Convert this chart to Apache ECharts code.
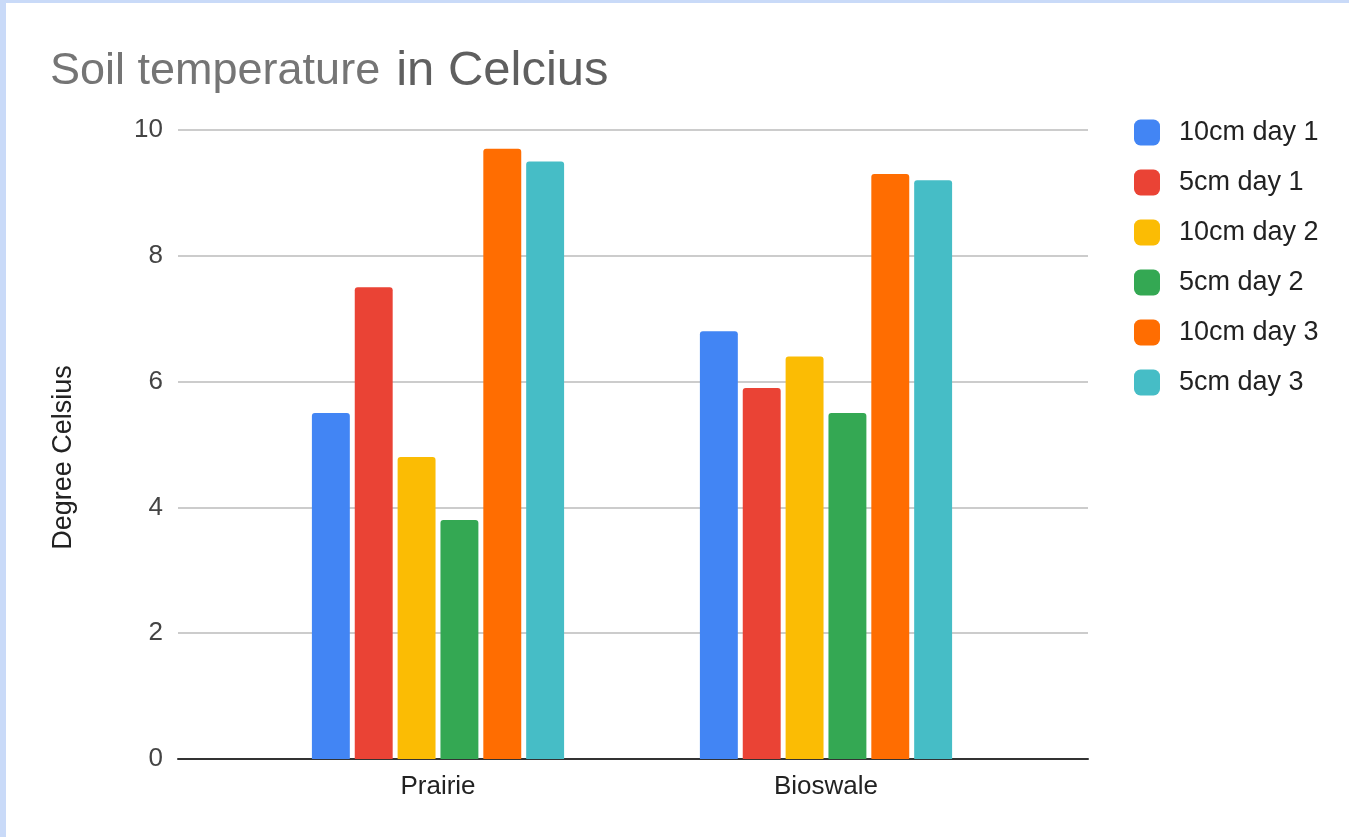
<!DOCTYPE html>
<html>
<head>
<meta charset="utf-8">
<script src="https://cdn.jsdelivr.net/npm/echarts@6/dist/echarts.min.js"></script>
<style>
  html, body { margin: 0; padding: 0; background: #ffffff; }
  #frame { position: absolute; left: 0; top: 0; width: 1349px; height: 837px; box-sizing: border-box;
           border-left: 6px solid #c9daf8; border-top: 3px solid #c9daf8; background: #ffffff; }
  #chart { position: absolute; left: 0; top: 0; width: 1349px; height: 837px; }
</style>
</head>
<body>
<div id="frame"></div>
<div id="chart"></div>
<script>
const categories = ["Prairie", "Bioswale"];
const seriesNames = ["10cm day 1", "5cm day 1", "10cm day 2", "5cm day 2", "10cm day 3", "5cm day 3"];
const seriesColors = ["#4285f4", "#ea4335", "#fbbc04", "#34a853", "#ff6d01", "#46bdc6"];
const d10cmDay1 = [5.5, 6.8];
const d5cmDay1 = [7.5, 5.9];
const d10cmDay2 = [4.8, 6.4];
const d5cmDay2 = [3.8, 5.5];
const d10cmDay3 = [9.7, 9.3];
const d5cmDay3 = [9.5, 9.2];
const seriesValues = [d10cmDay1, d5cmDay1, d10cmDay2, d5cmDay2, d10cmDay3, d5cmDay3];
const yMin = 0, yMax = 10, yStep = 2;

const FONT = "Liberation Sans";
const chart = echarts.init(document.getElementById('chart'), null, { renderer: 'canvas' });

const series = seriesNames.map((name, i) => ({
  name: name,
  type: 'bar',
  xAxisIndex: 1,
  yAxisIndex: 1,
  data: seriesValues[i],
  itemStyle: { color: seriesColors[i], borderRadius: [3, 3, 0, 0] },
  barGap: '13%',
  barCategoryGap: '35%'
}));

chart.setOption({
  backgroundColor: 'transparent',
  animation: false,
  color: seriesColors,
  title: {
    text: '{a|Soil temperature} {b|in Celcius}',
    left: 45,
    top: 42,
    textStyle: {
      fontFamily: FONT,
      fontWeight: 'normal',
      rich: {
        a: { fontFamily: FONT, fontSize: 45, fontWeight: 'normal', color: '#757575' },
        b: { fontFamily: FONT, fontSize: 49, fontWeight: 'normal', color: '#5f5f5f', padding: [0, 0, 0, 11] }
      }
    }
  },
  legend: {
    orient: 'vertical',
    left: 1129,
    top: 114,
    itemWidth: 26,
    itemHeight: 26,
    itemGap: 23,
    icon: 'roundRect',
    data: seriesNames,
    textStyle: { fontFamily: FONT, fontSize: 27, color: '#222222', padding: [0, 0, 0, 14] }
  },
  grid: [
    { left: 178, right: 261, top: 130, bottom: 78, containLabel: false },
    { left: 244, width: 776, top: 130, bottom: 78, containLabel: false }
  ],
  xAxis: [
    {
      type: 'category', gridIndex: 0, data: categories,
      axisLine: { show: true, lineStyle: { color: '#333333', width: 2 } },
      axisTick: { show: false }, axisLabel: { show: false }, splitLine: { show: false }
    },
    {
      type: 'category', gridIndex: 1, data: categories,
      axisLine: { show: false }, axisTick: { show: false },
      axisLabel: { fontFamily: FONT, fontSize: 26, color: '#222222', margin: 15 }
    }
  ],
  yAxis: [
    {
      type: 'value', gridIndex: 0, min: yMin, max: yMax, interval: yStep,
      name: 'Degree Celsius', nameLocation: 'middle', nameGap: 101, nameRotate: 90,
      nameTextStyle: { fontFamily: FONT, fontSize: 27, color: '#222222', padding: [0, 26, 0, 0] },
      axisLine: { show: false }, axisTick: { show: false },
      axisLabel: { fontFamily: FONT, fontSize: 26, color: '#444444', margin: 15 },
      splitLine: { lineStyle: { color: '#cccccc', width: 2 } }
    },
    {
      type: 'value', gridIndex: 1, min: yMin, max: yMax, interval: yStep,
      axisLine: { show: false }, axisTick: { show: false },
      axisLabel: { show: false }, splitLine: { show: false }
    }
  ],
  series: series
});
</script>
</body>
</html>
